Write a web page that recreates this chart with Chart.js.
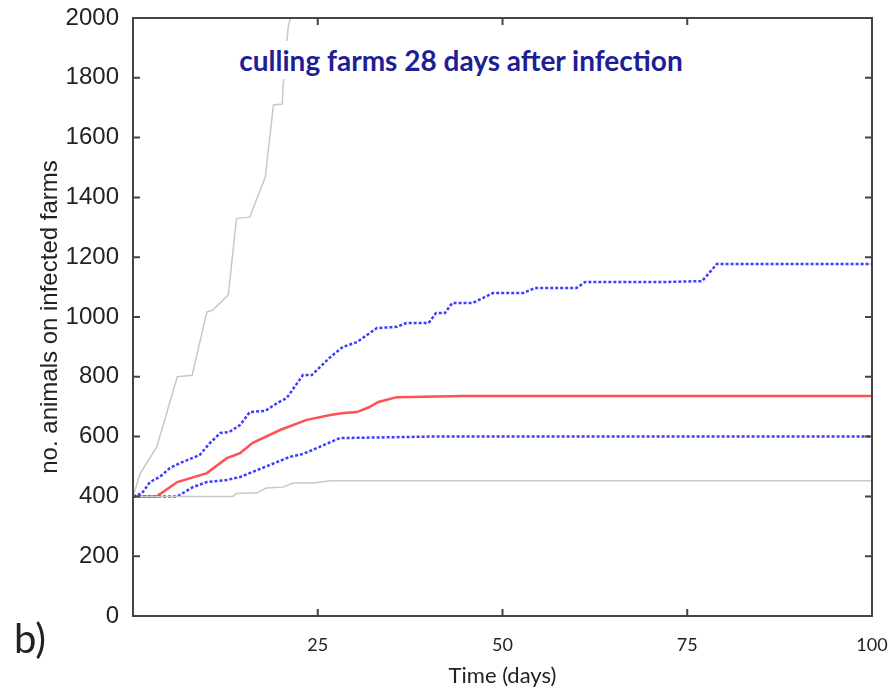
<!DOCTYPE html>
<html>
<head>
<meta charset="utf-8">
<script src="https://cdn.jsdelivr.net/npm/chart.js@4"></script>
<style>
  body { margin: 0; background: #fff; }
  #wrap { position: relative; width: 890px; height: 691px; }
  #titulo {
    position: absolute; left: 461px; top: 60px; transform: translate(-50%, -50%);
    font: bold 28px Lato, sans-serif; color: #1e1e96; background: #fff;
    padding: 2px 6px; white-space: nowrap;
  }
  #panel {
    position: absolute; left: 14px; top: 614px;
    font: 40px Lato, sans-serif; color: #222;
  }
</style>
</head>
<body>
<div id="wrap">
  <canvas id="graf" width="890" height="691"></canvas>
  <div id="titulo">culling farms 28 days after infection</div>
  <div id="panel">b)</div>
</div>
<script>
// --- DATOS ---
const diasGrisAlto = [0, 1, 3.2, 4, 6, 8, 10, 10.8, 12.9, 14, 15.8, 17.9, 19, 20.2, 20.3, 21, 21.3, 21.6];
const valGrisAlto  = [400, 478, 565, 632, 800, 805, 1017, 1023, 1074, 1330, 1334, 1468, 1709, 1712, 1769, 1970, 2000, 2100];

const diasAzulAlto = [0, 1.2, 2.3, 3.6, 5, 6.4, 9, 10.4, 11.8, 13, 14.5, 15.8, 17.9, 19.5, 20.8, 23, 24.2, 26.7, 28.4, 30.3, 33, 35.7, 37, 40, 41, 42.2, 43.2, 46, 48.7, 52.8, 54.4, 60, 61.2, 71.7, 77, 79, 100];
const valAzulAlto  = [400, 410, 448, 465, 495, 512, 538, 578, 612, 615, 639, 682, 686, 712, 729, 806, 806, 866, 900, 916, 963, 967, 980, 980, 1013, 1013, 1047, 1047, 1080, 1080, 1097, 1097, 1117, 1117, 1120, 1177, 1177];

const diasMediana = [0, 3.2, 6, 10, 12.7, 14.5, 16.2, 19.9, 23.5, 26.7, 28.5, 30.3, 32, 33.2, 35.7, 44.7, 100];
const valMediana  = [400, 400, 448, 478, 528, 545, 579, 622, 656, 672, 679, 682, 699, 716, 732, 736, 736];

const diasAzulBajo = [0, 6, 8.1, 10, 12.7, 14.5, 15.8, 18.5, 21.2, 23, 24.9, 28, 40, 100];
const valAzulBajo  = [400, 400, 431, 448, 455, 465, 478, 505, 532, 542, 562, 595, 600, 600];

const diasGrisBajo = [0, 13.5, 14, 16.8, 18, 20.3, 21.7, 24.4, 26.7, 100];
const valGrisBajo  = [400, 400, 410, 412, 428, 431, 445, 445, 452, 452];

const ticksX = [0, 25, 50, 75, 100];
const ticksY = [0, 200, 400, 600, 800, 1000, 1200, 1400, 1600, 1800, 2000];

function puntos(dias, vals) {
    return dias.map((d, i) => ({ x: d, y: vals[i] }));
}

// --- CAJA Y MARCAS HACIA DENTRO (estilo MATLAB) ---
const cajaPlugin = {
    id: "caja",
    afterDatasetsDraw(chart) {
        const { ctx, chartArea: a, scales } = chart;
        const largo = 7;
        ctx.save();
        ctx.strokeStyle = "#444";
        ctx.lineWidth = 2;
        ctx.strokeRect(a.left, a.top, a.right - a.left, a.bottom - a.top);
        ctx.beginPath();
        ticksY.forEach(v => {
            const y = scales.y.getPixelForValue(v);
            ctx.moveTo(a.left, y); ctx.lineTo(a.left + largo, y);
            ctx.moveTo(a.right, y); ctx.lineTo(a.right - largo, y);
        });
        ticksX.forEach(v => {
            const x = scales.x.getPixelForValue(v);
            ctx.moveTo(x, a.bottom); ctx.lineTo(x, a.bottom - largo);
            ctx.moveTo(x, a.top); ctx.lineTo(x, a.top + largo);
        });
        ctx.stroke();
        ctx.restore();
    }
};

const azul = "rgba(40, 40, 255, 0.9)";

new Chart(document.getElementById("graf"), {
    type: "line",
    data: {
        datasets: [
            { data: puntos(diasGrisAlto, valGrisAlto), borderColor: "#c8c8c8", borderWidth: 1.5 },
            { data: puntos(diasGrisBajo, valGrisBajo), borderColor: "#c8c8c8", borderWidth: 1.5 },
            { data: puntos(diasAzulBajo, valAzulBajo), borderColor: azul, borderWidth: 2.5, borderDash: [3, 2] },
            { data: puntos(diasAzulAlto, valAzulAlto), borderColor: azul, borderWidth: 2.5, borderDash: [3, 2] },
            { data: puntos(diasMediana, valMediana), borderColor: "rgba(255, 50, 50, 0.85)", borderWidth: 2.5 }
        ]
    },
    options: {
        responsive: false,
        animation: false,
        events: [],
        elements: { point: { radius: 0 }, line: { tension: 0 } },
        layout: { padding: { top: 18, right: 18, left: 0, bottom: 0 } },
        plugins: { legend: { display: false }, tooltip: { enabled: false } },
        scales: {
            x: {
                type: "linear", min: 0, max: 100,
                afterFit: s => { s.height = 75; s.paddingRight = 0; s.paddingLeft = 0; },
                afterBuildTicks: s => { s.ticks = ticksX.map(v => ({ value: v })); },
                grid: { display: false }, border: { display: false },
                ticks: {
                    padding: 10, color: "#222", maxRotation: 0,
                    font: { family: "Lato", size: 18 },
                    callback: v => (v === 0 ? "" : String(v))
                },
                title: {
                    display: true, text: "Time (days)", color: "#222",
                    font: { family: "Lato", size: 22 }, padding: { bottom: 2 }
                }
            },
            y: {
                min: 0, max: 2000,
                afterFit: s => { s.width = 133; s.paddingTop = 0; s.paddingBottom = 0; },
                afterBuildTicks: s => { s.ticks = ticksY.map(v => ({ value: v })); },
                grid: { display: false }, border: { display: false },
                ticks: {
                    padding: 6, color: "#222",
                    font: { family: "Liberation Sans", size: 24 },
                    callback: v => String(v)
                },
                title: {
                    display: true, text: "no. animals on infected farms", color: "#222",
                    font: { family: "Liberation Sans", size: 24 }, padding: { top: 36 }
                }
            }
        }
    },
    plugins: [cajaPlugin]
});
</script>
</body>
</html>
